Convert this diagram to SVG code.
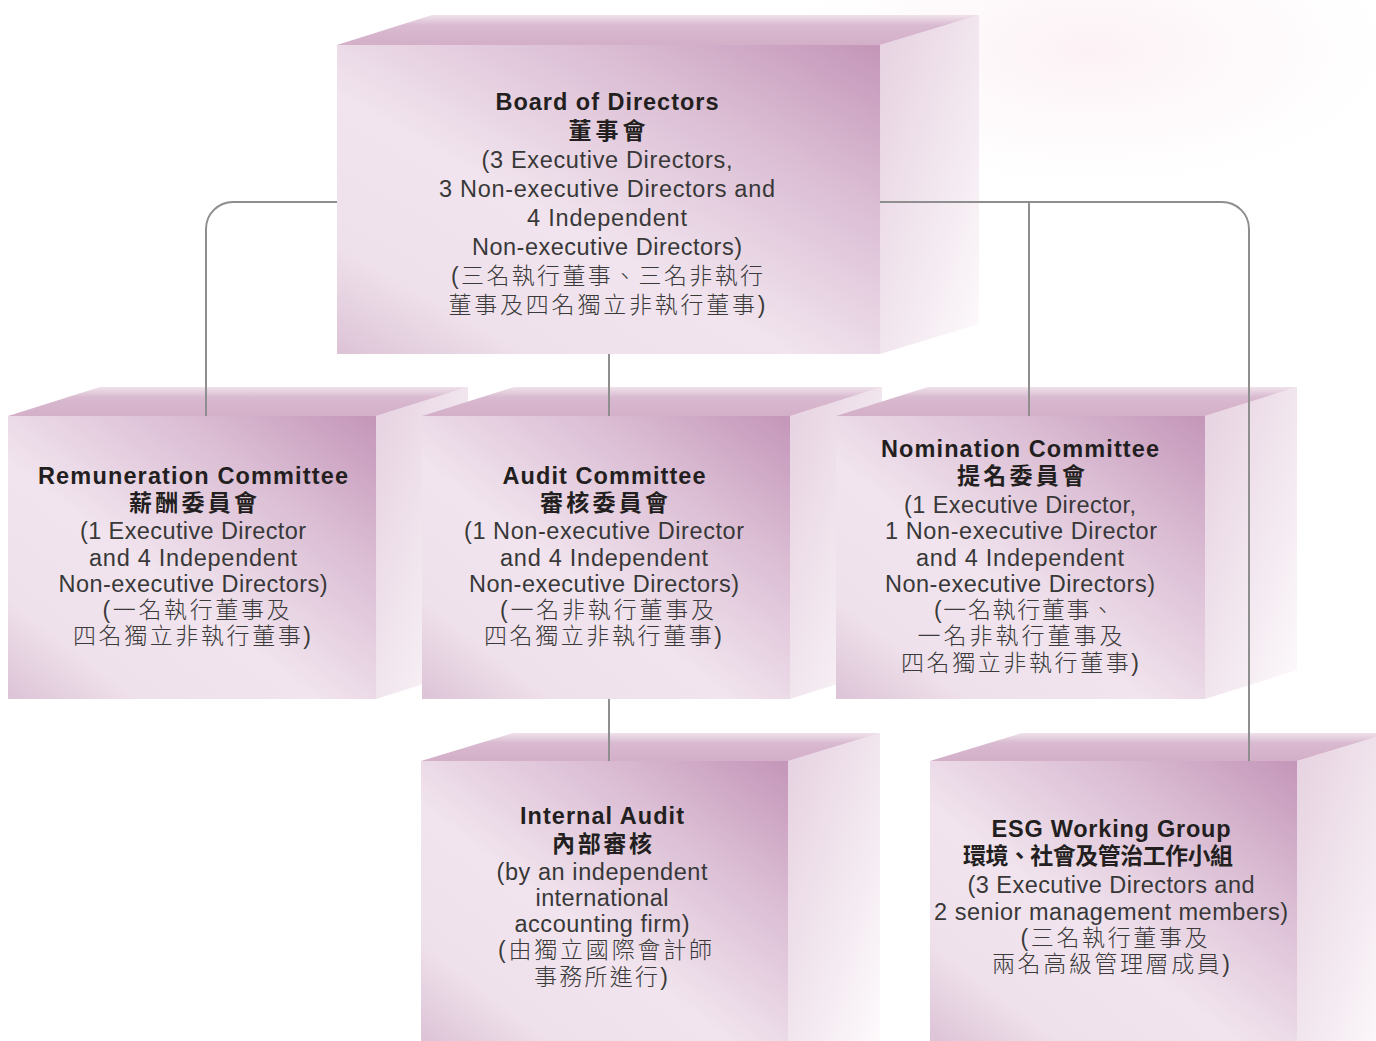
<svg xmlns="http://www.w3.org/2000/svg" width="1376" height="1041" viewBox="0 0 1376 1041">
<defs>
<radialGradient id="glow" cx="0.5" cy="0.5" r="0.5">
<stop offset="0" stop-color="#fcf0f5" stop-opacity="0.9"/>
<stop offset="0.6" stop-color="#fdf6f9" stop-opacity="0.5"/>
<stop offset="1" stop-color="#ffffff" stop-opacity="0"/>
</radialGradient>
<linearGradient id="gFront" x1="1" y1="0" x2="0" y2="1">
<stop offset="0" stop-color="#c496b9"/>
<stop offset="0.28" stop-color="#dcbfd5"/>
<stop offset="0.58" stop-color="#f1e4ee"/>
<stop offset="0.82" stop-color="#efe1eb"/>
<stop offset="1" stop-color="#dcc3d6"/>
</linearGradient>
<linearGradient id="gTop" x1="0" y1="0" x2="0" y2="1">
<stop offset="0" stop-color="#efe2eb"/>
<stop offset="0.35" stop-color="#d9bad0"/>
<stop offset="1" stop-color="#d3afc8"/>
</linearGradient>
<linearGradient id="gSide" x1="0" y1="0" x2="1" y2="1">
<stop offset="0" stop-color="#e6d1e0"/>
<stop offset="0.55" stop-color="#f2e7ef"/>
<stop offset="1" stop-color="#fdfafc"/>
</linearGradient>
<style>
.front{fill:url(#gFront)}
.top{fill:url(#gTop)}
.side{fill:url(#gSide)}
.t{font-family:"Liberation Sans",Arial,"Noto Sans CJK TC",sans-serif;text-anchor:middle}
.b{font-weight:bold;font-size:23.5px;fill:#231f20}
.r{font-size:23.5px;fill:#383838}
.cb{font-weight:bold;font-size:23px;fill:#231f20}
.c{font-weight:300;font-size:23px;fill:#3a3a3a}
.conn{fill:none;stroke:#8e8e8e;stroke-width:2}
</style>
</defs>
<rect width="1376" height="1041" fill="#ffffff"/>
<ellipse cx="1090" cy="50" rx="330" ry="150" fill="url(#glow)"/>

<g id="board">
<polygon class="side" points="880,45 979,15 979,324 880,354"/>
<polygon class="top" points="337,45 432,15 979,15 880,45"/>
<rect class="front" x="337" y="45" width="543" height="309"/>
<text class="t b" x="607" y="110" textLength="223" lengthAdjust="spacing">Board of Directors</text>
<text class="t cb" x="607" y="139" textLength="77" lengthAdjust="spacing">董事會</text>
<text class="t r" x="607" y="168" textLength="251" lengthAdjust="spacing">(3 Executive Directors,</text>
<text class="t r" x="607" y="197" textLength="336" lengthAdjust="spacing">3 Non-executive Directors and</text>
<text class="t r" x="607" y="226" textLength="160" lengthAdjust="spacing">4 Independent</text>
<text class="t r" x="607" y="255" textLength="270" lengthAdjust="spacing">Non-executive Directors)</text>
<text class="t c" x="607" y="284" textLength="312" lengthAdjust="spacing">(三名執行董事、三名非執行</text>
<text class="t c" x="607" y="313" textLength="317" lengthAdjust="spacing">董事及四名獨立非執行董事)</text>
</g>

<g id="remuneration">
<polygon class="side" points="376,416 468,387 468,670 376,699"/>
<polygon class="top" points="8,416 100,387 468,387 376,416"/>
<rect class="front" x="8" y="416" width="368" height="283"/>
<text class="t b" x="193" y="484" textLength="310" lengthAdjust="spacing">Remuneration Committee</text>
<text class="t cb" x="193" y="511" textLength="128" lengthAdjust="spacing">薪酬委員會</text>
<text class="t r" x="193" y="539" textLength="226" lengthAdjust="spacing">(1 Executive Director</text>
<text class="t r" x="193" y="566" textLength="208" lengthAdjust="spacing">and 4 Independent</text>
<text class="t r" x="193" y="592" textLength="269" lengthAdjust="spacing">Non-executive Directors)</text>
<text class="t c" x="196" y="618" textLength="187" lengthAdjust="spacing">(一名執行董事及</text>
<text class="t c" x="192" y="644" textLength="238" lengthAdjust="spacing">四名獨立非執行董事)</text>
</g>

<g id="audit">
<polygon class="side" points="790,416 882,387 882,670 790,699"/>
<polygon class="top" points="422,416 514,387 882,387 790,416"/>
<rect class="front" x="422" y="416" width="368" height="283"/>
<text class="t b" x="604" y="484" textLength="203" lengthAdjust="spacing">Audit Committee</text>
<text class="t cb" x="604" y="511" textLength="128" lengthAdjust="spacing">審核委員會</text>
<text class="t r" x="604" y="539" textLength="280" lengthAdjust="spacing">(1 Non-executive Director</text>
<text class="t r" x="604" y="566" textLength="208" lengthAdjust="spacing">and 4 Independent</text>
<text class="t r" x="604" y="592" textLength="270" lengthAdjust="spacing">Non-executive Directors)</text>
<text class="t c" x="607" y="618" textLength="214" lengthAdjust="spacing">(一名非執行董事及</text>
<text class="t c" x="603" y="644" textLength="238" lengthAdjust="spacing">四名獨立非執行董事)</text>
</g>

<g id="nomination">
<polygon class="side" points="1205,416 1297,387 1297,670 1205,699"/>
<polygon class="top" points="836,416 928,387 1297,387 1205,416"/>
<rect class="front" x="836" y="416" width="369" height="283"/>
<text class="t b" x="1020" y="457" textLength="278" lengthAdjust="spacing">Nomination Committee</text>
<text class="t cb" x="1021" y="484" textLength="128" lengthAdjust="spacing">提名委員會</text>
<text class="t r" x="1020" y="513" textLength="232" lengthAdjust="spacing">(1 Executive Director,</text>
<text class="t r" x="1021" y="539" textLength="272" lengthAdjust="spacing">1 Non-executive Director</text>
<text class="t r" x="1020" y="566" textLength="208" lengthAdjust="spacing">and 4 Independent</text>
<text class="t r" x="1020" y="592" textLength="270" lengthAdjust="spacing">Non-executive Directors)</text>
<text class="t c" x="1024" y="618" textLength="180" lengthAdjust="spacing">(一名執行董事、</text>
<text class="t c" x="1020" y="644" textLength="205" lengthAdjust="spacing">一名非執行董事及</text>
<text class="t c" x="1020" y="671" textLength="238" lengthAdjust="spacing">四名獨立非執行董事)</text>
</g>

<g id="internal-audit">
<polygon class="side" points="788,761 880,733 880,1041 788,1041"/>
<polygon class="top" points="421,761 513,733 880,733 788,761"/>
<rect class="front" x="421" y="761" width="367" height="280"/>
<text class="t b" x="602" y="824" textLength="164" lengthAdjust="spacing">Internal Audit</text>
<text class="t cb" x="602" y="852" textLength="100" lengthAdjust="spacing">內部審核</text>
<text class="t r" x="602" y="880" textLength="211" lengthAdjust="spacing">(by an independent</text>
<text class="t r" x="602" y="906" textLength="133" lengthAdjust="spacing">international</text>
<text class="t r" x="602" y="932" textLength="175" lengthAdjust="spacing">accounting firm)</text>
<text class="t c" x="605" y="958" textLength="214" lengthAdjust="spacing">(由獨立國際會計師</text>
<text class="t c" x="601" y="985" textLength="134" lengthAdjust="spacing">事務所進行)</text>
</g>

<g id="esg">
<polygon class="side" points="1297,761 1389,733 1389,1041 1297,1041"/>
<polygon class="top" points="930,761 1022,733 1389,733 1297,761"/>
<rect class="front" x="930" y="761" width="367" height="280"/>
<text class="t b" x="1111" y="837" textLength="239" lengthAdjust="spacing">ESG Working Group</text>
<text class="t cb" x="1098" y="864" textLength="270" lengthAdjust="spacing">環境、社會及管治工作小組</text>
<text class="t r" x="1111" y="893" textLength="287" lengthAdjust="spacing">(3 Executive Directors and</text>
<text class="t r" x="1111" y="920" textLength="354" lengthAdjust="spacing">2 senior management members)</text>
<text class="t c" x="1114" y="946" textLength="187" lengthAdjust="spacing">(三名執行董事及</text>
<text class="t c" x="1111" y="972" textLength="238" lengthAdjust="spacing">兩名高級管理層成員)</text>
</g>

<g id="connectors">
<path class="conn" d="M337,202 H233 A27,27 0 0 0 206,229 V416"/>
<path class="conn" d="M609,354 V416"/>
<path class="conn" d="M880,202 H1222 A27,27 0 0 1 1249,229 V761"/>
<path class="conn" d="M1029,202 V416"/>
<path class="conn" d="M609,699 V761"/>
</g>
</svg>
